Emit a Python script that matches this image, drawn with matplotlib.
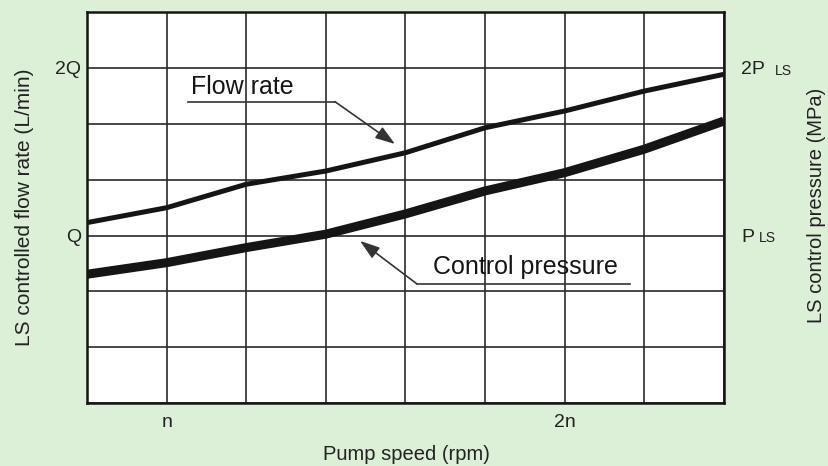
import numpy as np
import matplotlib
matplotlib.use("Agg")
import matplotlib.pyplot as plt
from matplotlib.ticker import MultipleLocator, FixedLocator
import matplotlib.transforms as mtransforms

plt.rcParams['font.family'] = ['Liberation Sans', 'DejaVu Sans']

# --- donnees (x en multiples de n, y en multiples de Q / P_LS) ---
pump_speed = [0.8, 1.0, 1.2, 1.4, 1.6, 1.8, 2.0, 2.2, 2.4]
flow_rate = [1.077, 1.166, 1.306, 1.385, 1.494, 1.643, 1.743, 1.862, 1.962]
control_pressure = [0.769, 0.838, 0.928, 1.008, 1.129, 1.266, 1.375, 1.515, 1.683]

x_ticks = [1.0, 2.0]
x_labels = ['n', '2n']
y_ticks = [1.0, 2.0]
y_left_labels = ['Q', '2Q']
y_right_labels = ['P', '2P']
y_right_suffix = 'LS'

bg = '#dcefd7'
ink = '#151515'
txt = '#222222'

fig = plt.figure(figsize=(8.29, 4.66), dpi=100, facecolor=bg)
ax = fig.add_axes([0.105, 0.135, 0.768, 0.839])
ax.set_facecolor('white')

ax.plot(pump_speed, flow_rate, color=ink, lw=3.6, solid_capstyle='butt', zorder=3)
ax.plot(pump_speed, control_pressure, color=ink, lw=6.5, solid_capstyle='butt', zorder=3)

ax.set_xlim(0.8, 2.4)
ax.set_ylim(0, 7 / 3)
ax.xaxis.set_major_locator(FixedLocator(x_ticks))
ax.xaxis.set_minor_locator(MultipleLocator(0.2))
ax.yaxis.set_major_locator(FixedLocator(y_ticks))
ax.yaxis.set_minor_locator(MultipleLocator(1 / 3))
ax.set_xticklabels(x_labels)
ax.set_yticklabels(y_left_labels)
ax.grid(True, which='both', color='#2a2a2a', lw=1.2)
ax.set_axisbelow(True)
ax.tick_params(which='both', length=0)
ax.tick_params(axis='x', labelsize=14, pad=8, colors=txt)
ax.tick_params(axis='y', labelsize=14, pad=4.5, colors=txt)
for s in ax.spines.values():
    s.set_linewidth(1.8)
    s.set_color(ink)

# titres des axes places a la main
fig.text(0.49, 0.024, 'Pump speed (rpm)', fontsize=14.5, color=txt, ha='center', va='center')
fig.text(0.029, 0.556, 'LS controlled flow rate (L/min)', fontsize=15, color=txt,
         ha='center', va='center', rotation=90)
fig.text(0.9855, 0.56, 'LS control pressure (MPa)', fontsize=14.5, color=txt,
         ha='center', va='center', rotation=90)

# axe de droite : pression
ax2 = ax.twinx()
ax2.set_ylim(ax.get_ylim())
ax2.yaxis.set_major_locator(FixedLocator(y_ticks))
ax2.set_yticklabels(y_right_labels)
ax2.tick_params(length=0, labelsize=14, pad=12.5, colors=txt)
for s in ax2.spines.values():
    s.set_visible(False)

# petit "LS" apres P / 2P, sur la ligne de base
trans = mtransforms.blended_transform_factory(ax.transAxes, ax.transData)
for lab, yv in zip(y_right_labels, y_ticks):
    off = 37 if len(lab) > 1 else 25
    ax.annotate(y_right_suffix, xy=(1, yv), xycoords=trans, xytext=(off, -5),
                textcoords='offset points', fontsize=10, color=txt,
                va='baseline', ha='left', annotation_clip=False)

# etiquettes avec soulignement et fleche
arrow = dict(arrowstyle='-|>,head_length=0.6,head_width=0.2', color='#333', lw=1.2,
             mutation_scale=20, shrinkA=0, shrinkB=0)

ax.text(1.062, 1.843, 'Flow rate', fontsize=18, color=ink, va='baseline', ha='left', zorder=5)
ax.plot([1.054, 1.423], [1.799, 1.799], color='#333', lw=1.2, zorder=5)
ax.annotate('', xy=(1.574, 1.546), xytext=(1.423, 1.799), arrowprops=arrow, zorder=5)

ax.text(1.669, 0.771, 'Control pressure', fontsize=18, color=ink, va='baseline', ha='left', zorder=5)
ax.plot([1.628, 2.164], [0.713, 0.713], color='#333', lw=1.2, zorder=5)
ax.annotate('', xy=(1.486, 0.968), xytext=(1.628, 0.713), arrowprops=arrow, zorder=5)

fig.savefig('out.png', dpi=100, facecolor=bg)
